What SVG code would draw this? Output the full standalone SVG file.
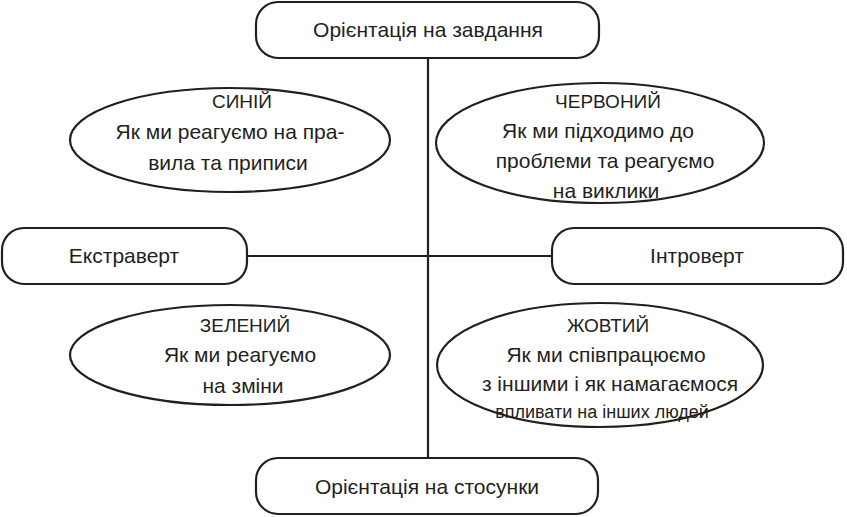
<svg xmlns="http://www.w3.org/2000/svg" width="847" height="517" viewBox="0 0 847 517">
<style>
.b{fill:#fff;stroke:#231f20;stroke-width:2.2}
.t{font-family:"Liberation Sans",Arial,sans-serif;font-size:21px;fill:#231f20;text-anchor:middle}
.h{font-size:19px}
</style>
<rect width="847" height="517" fill="#fff"/>
<g id="connectors" stroke="#231f20" stroke-width="2.2">
<line x1="428" y1="58" x2="428" y2="458"/>
<line x1="247" y1="256" x2="552" y2="256"/>
</g>
<g id="top"><rect class="b" x="256" y="2" width="343" height="56" rx="22"/><text class="t" x="428" y="37">Орієнтація на завдання</text></g>
<g id="bottom"><rect class="b" x="256" y="458" width="342" height="56" rx="22"/><text class="t" x="427" y="494">Орієнтація на стосунки</text></g>
<g id="left"><rect class="b" x="2" y="228" width="245" height="56" rx="22"/><text class="t" x="124" y="263">Екстраверт</text></g>
<g id="right"><rect class="b" x="552" y="228" width="291" height="56" rx="22"/><text class="t" x="697" y="263">Інтроверт</text></g>
<g id="blue"><ellipse class="b" cx="230" cy="140" rx="160" ry="52"/><text class="t h" x="242" y="108">СИНІЙ</text><text class="t" x="230" y="139">Як ми реагуємо на пра-</text><text class="t" x="228" y="170">вила та приписи</text></g>
<g id="red"><ellipse class="b" cx="600" cy="143" rx="164" ry="60"/><text class="t h" x="608" y="108">ЧЕРВОНИЙ</text><text class="t" x="598" y="138">Як ми підходимо до</text><text class="t" x="605" y="168">проблеми та реагуємо</text><text class="t" x="606" y="198">на виклики</text></g>
<g id="green"><ellipse class="b" cx="230" cy="355" rx="160" ry="50"/><text class="t h" x="245" y="332">ЗЕЛЕНИЙ</text><text class="t" x="240" y="362">Як ми реагуємо</text><text class="t" x="243" y="393">на зміни</text></g>
<g id="yellow"><ellipse class="b" cx="600" cy="365" rx="163" ry="62"/><text class="t h" x="608" y="332">ЖОВТИЙ</text><text class="t" x="606" y="362">Як ми співпрацюємо</text><text class="t" x="610" y="391">з іншими і як намагаємося</text><text class="t" x="602" y="418" style="font-size:18px">впливати на інших людей</text></g>
</svg>
